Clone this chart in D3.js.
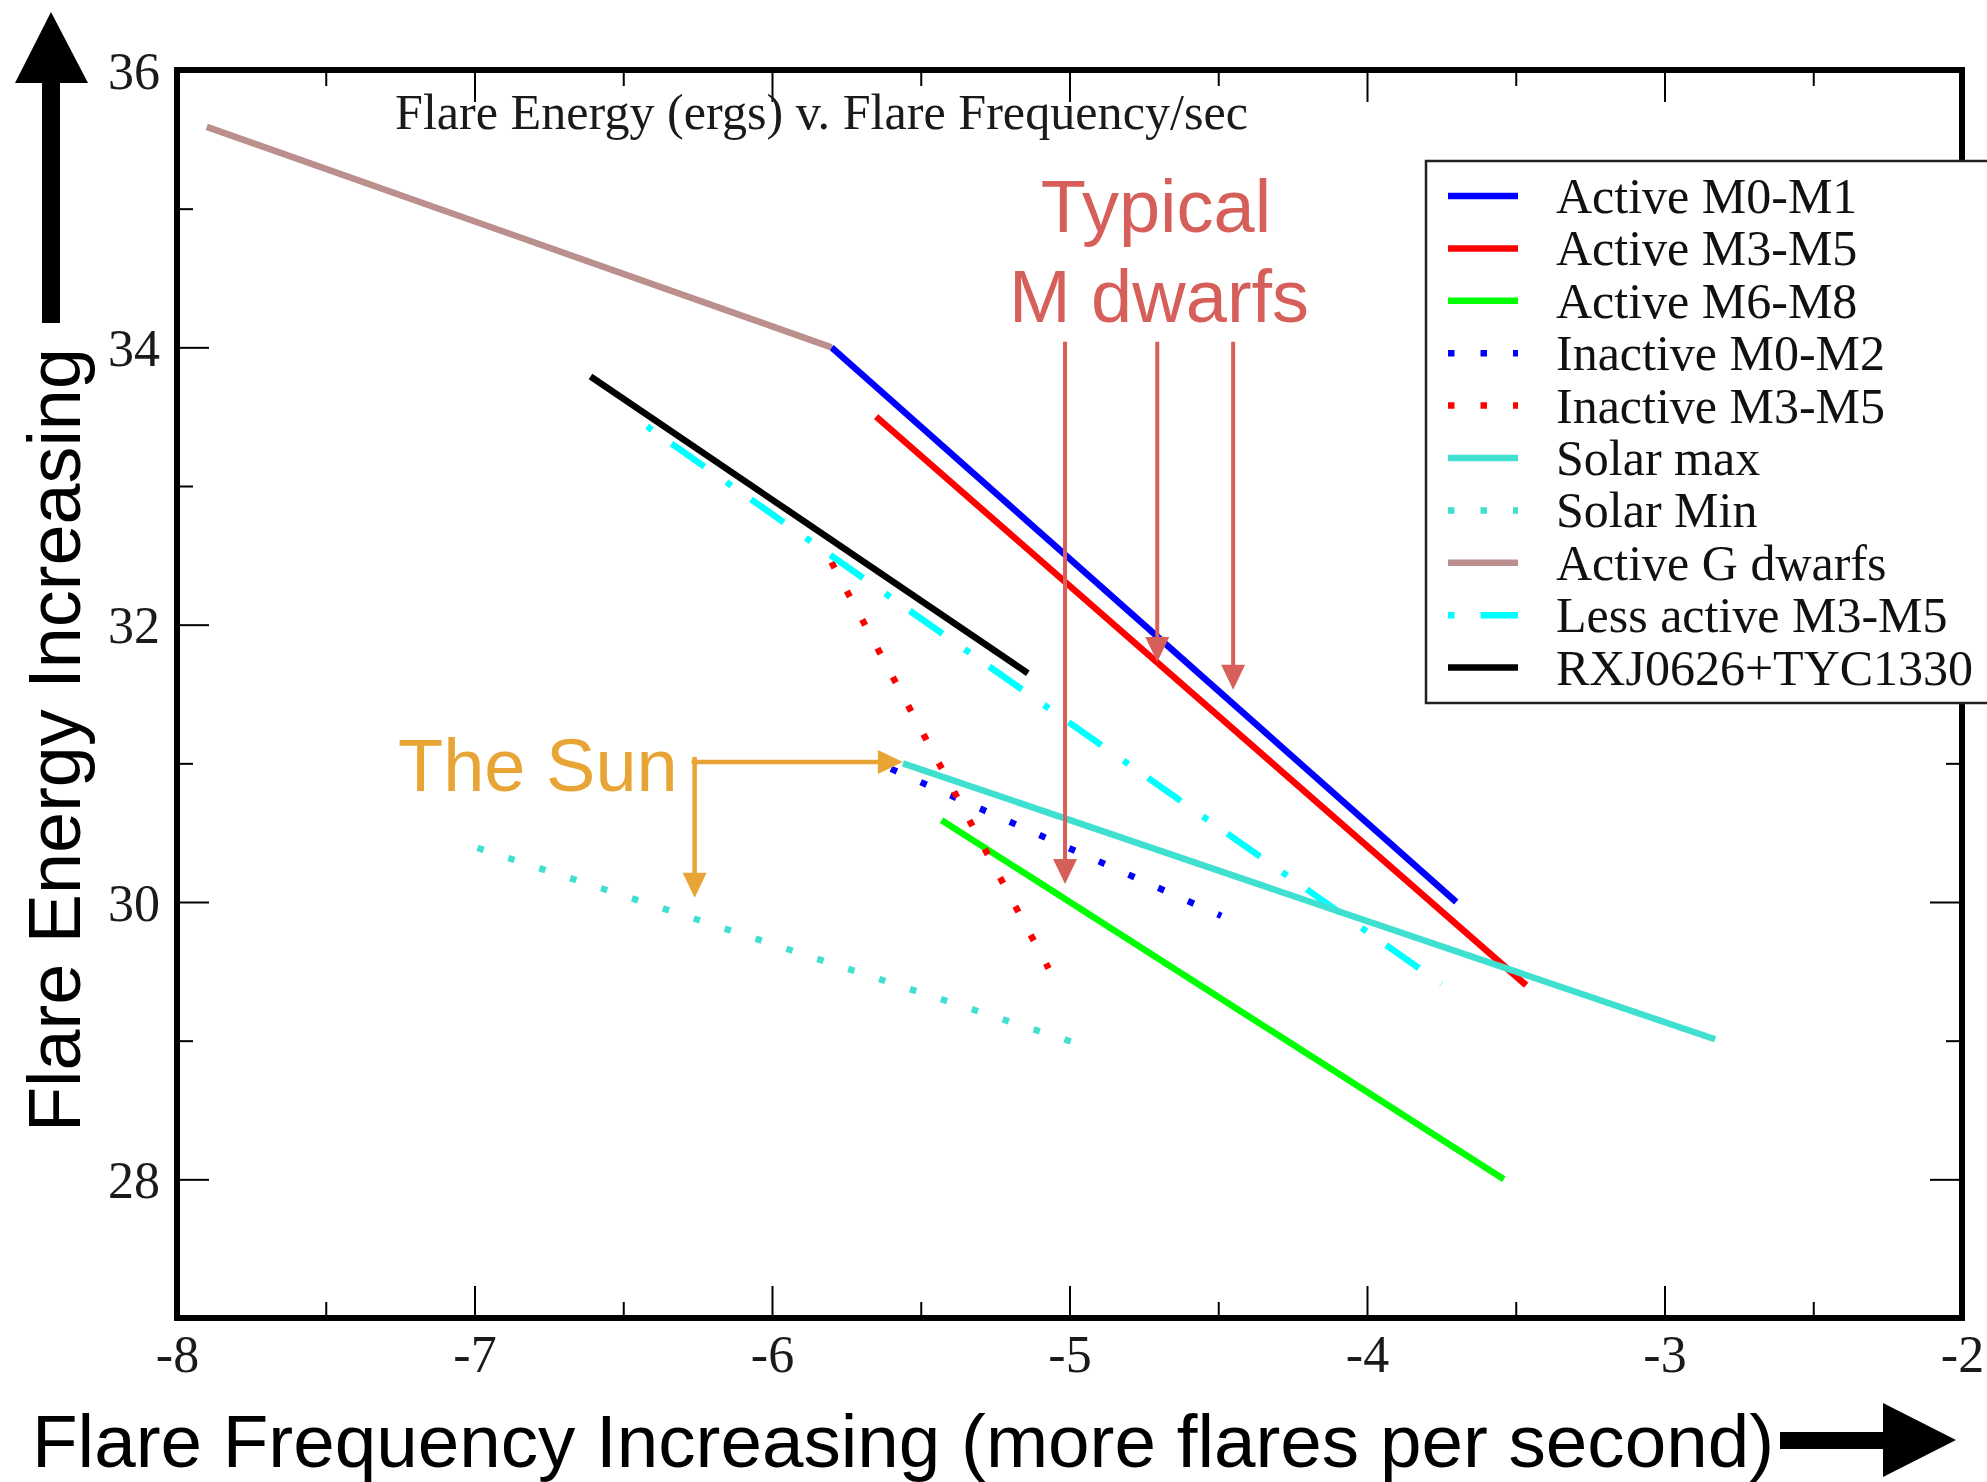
<!DOCTYPE html>
<html>
<head>
<meta charset="utf-8">
<script src="https://cdn.jsdelivr.net/npm/d3@7"></script>
<style>
  html, body { margin: 0; padding: 0; background: #fff; }
  svg { display: block; }
</style>
</head>
<body>
<script>
// ---------- data ----------
const xDomain = [-8, -2];
const yDomain = [27, 36];
const xMajorTicks = [-8, -7, -6, -5, -4, -3, -2];
const xMinorTicks = [-7.5, -6.5, -5.5, -4.5, -3.5, -2.5];
const yMajorTicks = [28, 30, 32, 34, 36];
const yMinorTicks = [29, 31, 33, 35];

const seriesNames = [
  "Active M0-M1", "Active M3-M5", "Active M6-M8", "Inactive M0-M2", "Inactive M3-M5",
  "Solar max", "Solar Min", "Active G dwarfs", "Less active M3-M5", "RXJ0626+TYC1330"
];
const seriesColors = ["#0000ff", "#ff0000", "#00ff00", "#0000ff", "#ff0000",
  "#40e0d0", "#40e0d0", "#bc8f8f", "#00ffff", "#000000"];
const seriesStyles = ["solid", "solid", "solid", "dot", "dot", "solid", "dot", "solid", "dashdot", "solid"];

const activeM0M1     = [[-5.80, 34.00], [-3.70, 30.00]];
const activeM3M5     = [[-5.65, 33.50], [-3.465, 29.40]];
const activeM6M8     = [[-5.43, 30.59], [-3.54, 28.00]];
const inactiveM0M2   = [[-5.60, 30.96], [-4.49, 29.90]];
const inactiveM3M5   = [[-5.80, 32.45], [-5.07, 29.52]];
const solarMax       = [[-5.56, 31.00], [-2.83, 29.01]];
const solarMin       = [[-6.99, 30.39], [-4.99, 28.99]];
const activeGDwarfs  = [[-7.90, 35.59], [-5.80, 34.00]];
const lessActiveM3M5 = [[-6.42, 33.43], [-3.75, 29.41]];
const rxjTyc         = [[-6.61, 33.79], [-5.14, 31.65]];
const seriesValues = [activeM0M1, activeM3M5, activeM6M8, inactiveM0M2, inactiveM3M5,
  solarMax, solarMin, activeGDwarfs, lessActiveM3M5, rxjTyc];

// annotations (data coords)
const mDwarfArrowX = [-5.015, -4.705, -4.45];
const mDwarfArrowTop = 34.04;
const mDwarfArrowTip = [30.13, 31.73, 31.53];
const sunCorner = [-6.26, 31.01];
const sunDownTip = 30.03;
const sunRightTip = -5.56;

// ---------- layout ----------
const W = 1987, H = 1482;
const L = 177, R = 1962, T = 70, B = 1318;
const svg = d3.select("body").append("svg").attr("width", W).attr("height", H)
  .style("background", "#fff");

const x = d3.scaleLinear().domain(xDomain).range([L, R]);
const y = d3.scaleLinear().domain(yDomain).range([B, T]);

const serif = "'Liberation Serif', 'Times New Roman', serif";
const sans = "'Liberation Sans', Arial, Helvetica, sans-serif";

const dashFor = s => s === "dot" ? "6.5 26" : s === "dashdot" ? "6 24 40 27" : null;

// ---------- series lines ----------
const line = d3.line().x(d => x(d[0])).y(d => y(d[1]));
const drawOrder = [0, 1, 2, 3, 4, 6, 7, 8, 9, 5];
const gLines = svg.append("g");
drawOrder.forEach(i => {
  gLines.append("path")
    .attr("d", line(seriesValues[i]))
    .attr("fill", "none")
    .attr("stroke", seriesColors[i])
    .attr("stroke-width", 6.5)
    .attr("stroke-linecap", "butt")
    .attr("stroke-dasharray", dashFor(seriesStyles[i]));
});

// ---------- axes ----------
function styleAxis(g) {
  g.select(".domain").remove();
  g.selectAll(".tick line").attr("stroke", "#000").attr("stroke-width", 2);
  g.selectAll("text").attr("font-family", serif).attr("font-size", 52).attr("fill", "#1a1a1a");
}
const fmt = d => String(d);
// bottom
svg.append("g").attr("transform", `translate(0,${B})`)
  .call(d3.axisBottom(x).tickValues(xMajorTicks).tickSize(-32).tickPadding(17).tickFormat(fmt))
  .call(styleAxis)
  .call(g => g.selectAll("text").attr("dy", "0.71em"));
svg.append("g").attr("transform", `translate(0,${B})`)
  .call(d3.axisBottom(x).tickValues(xMinorTicks).tickSize(-16).tickFormat(""))
  .call(styleAxis);
// top
svg.append("g").attr("transform", `translate(0,${T})`)
  .call(d3.axisTop(x).tickValues(xMajorTicks).tickSize(-32).tickFormat(""))
  .call(styleAxis);
svg.append("g").attr("transform", `translate(0,${T})`)
  .call(d3.axisTop(x).tickValues(xMinorTicks).tickSize(-16).tickFormat(""))
  .call(styleAxis);
// left
svg.append("g").attr("transform", `translate(${L},0)`)
  .call(d3.axisLeft(y).tickValues(yMajorTicks).tickSize(-32).tickPadding(17).tickFormat(fmt))
  .call(styleAxis)
  .call(g => g.selectAll("text").attr("dy", "0.35em"));
svg.append("g").attr("transform", `translate(${L},0)`)
  .call(d3.axisLeft(y).tickValues(yMinorTicks).tickSize(-16).tickFormat(""))
  .call(styleAxis);
// right
svg.append("g").attr("transform", `translate(${R},0)`)
  .call(d3.axisRight(y).tickValues(yMajorTicks).tickSize(-32).tickFormat(""))
  .call(styleAxis);
svg.append("g").attr("transform", `translate(${R},0)`)
  .call(d3.axisRight(y).tickValues(yMinorTicks).tickSize(-16).tickFormat(""))
  .call(styleAxis);

// frame
svg.append("rect").attr("x", L).attr("y", T).attr("width", R - L).attr("height", B - T)
  .attr("fill", "none").attr("stroke", "#000").attr("stroke-width", 6);

// title
svg.append("text").attr("x", 395).attr("y", 129)
  .attr("font-family", serif).attr("font-size", 50).attr("fill", "#1a1a1a")
  .attr("textLength", 853).attr("lengthAdjust", "spacingAndGlyphs")
  .text("Flare Energy (ergs) v. Flare Frequency/sec");

// ---------- legend ----------
const legX = 1426, legY = 161, legH = 542, rowH = 52.4, firstRow = 196;
const gLeg = svg.append("g");
gLeg.append("rect").attr("x", legX).attr("y", legY).attr("width", 600).attr("height", legH)
  .attr("fill", "#fff").attr("stroke", "#222").attr("stroke-width", 2.5);
seriesNames.forEach((name, i) => {
  const cy = firstRow + i * rowH;
  gLeg.append("line").attr("x1", 1448).attr("x2", 1518).attr("y1", cy).attr("y2", cy)
    .attr("stroke", seriesColors[i]).attr("stroke-width", 6.5)
    .attr("stroke-dasharray", seriesStyles[i] === "dot" ? "6.5 26" :
      seriesStyles[i] === "dashdot" ? "6.5 26 40 30" : null);
  gLeg.append("text").attr("x", 1556).attr("y", cy + 17)
    .attr("font-family", serif).attr("font-size", 50).attr("fill", "#111")
    .text(name);
});

// ---------- annotations ----------
const red = "#d65f5a", orange = "#e8a535";
function arrowHead(g, tx, ty, dir, color, len = 25, half = 12) {
  let pts;
  if (dir === "down") pts = [[tx, ty], [tx - half, ty - len], [tx + half, ty - len]];
  else pts = [[tx, ty], [tx - len, ty - half], [tx - len, ty + half]];
  g.append("polygon").attr("points", pts.map(p => p.join(",")).join(" ")).attr("fill", color);
}
const gAnn = svg.append("g");
mDwarfArrowX.forEach((ax, i) => {
  gAnn.append("line").attr("x1", x(ax)).attr("x2", x(ax))
    .attr("y1", y(mDwarfArrowTop)).attr("y2", y(mDwarfArrowTip[i]) - 20)
    .attr("stroke", red).attr("stroke-width", 4);
  arrowHead(gAnn, x(ax), y(mDwarfArrowTip[i]), "down", red);
});
gAnn.append("text").attr("x", 1156).attr("y", 232).attr("text-anchor", "middle")
  .attr("font-family", sans).attr("font-size", 74).attr("fill", red).text("Typical");
gAnn.append("text").attr("x", 1159).attr("y", 322).attr("text-anchor", "middle")
  .attr("font-family", sans).attr("font-size", 74).attr("fill", red).text("M dwarfs");

// The Sun
gAnn.append("line").attr("x1", x(sunCorner[0]) - 3).attr("x2", x(sunRightTip) - 20)
  .attr("y1", y(sunCorner[1])).attr("y2", y(sunCorner[1]))
  .attr("stroke", orange).attr("stroke-width", 4.5);
arrowHead(gAnn, x(sunRightTip), y(sunCorner[1]), "right", orange);
gAnn.append("line").attr("x1", x(sunCorner[0])).attr("x2", x(sunCorner[0]))
  .attr("y1", y(sunCorner[1]) - 5).attr("y2", y(sunDownTip) - 20)
  .attr("stroke", orange).attr("stroke-width", 4.5);
arrowHead(gAnn, x(sunCorner[0]), y(sunDownTip), "down", orange);
gAnn.append("text").attr("x", 398).attr("y", 791)
  .attr("font-family", sans).attr("font-size", 74).attr("fill", orange).text("The Sun");

// ---------- big axis annotations ----------
svg.append("text").attr("transform", "translate(80,740) rotate(-90)")
  .attr("text-anchor", "middle").attr("font-family", sans).attr("font-size", 74)
  .attr("fill", "#000").attr("textLength", 784).attr("lengthAdjust", "spacingAndGlyphs")
  .text("Flare Energy Increasing");
// up arrow
svg.append("rect").attr("x", 42).attr("y", 80).attr("width", 18).attr("height", 243).attr("fill", "#000");
svg.append("polygon").attr("points", "51,12 15,83 88,83").attr("fill", "#000");

svg.append("text").attr("x", 32).attr("y", 1467)
  .attr("font-family", sans).attr("font-size", 74).attr("fill", "#000")
  .attr("textLength", 1742).attr("lengthAdjust", "spacingAndGlyphs")
  .text("Flare Frequency Increasing (more flares per second)");
// right arrow
svg.append("rect").attr("x", 1780).attr("y", 1432).attr("width", 106).attr("height", 17).attr("fill", "#000");
svg.append("polygon").attr("points", "1883,1403 1956,1440 1883,1477").attr("fill", "#000");
</script>
</body>
</html>
